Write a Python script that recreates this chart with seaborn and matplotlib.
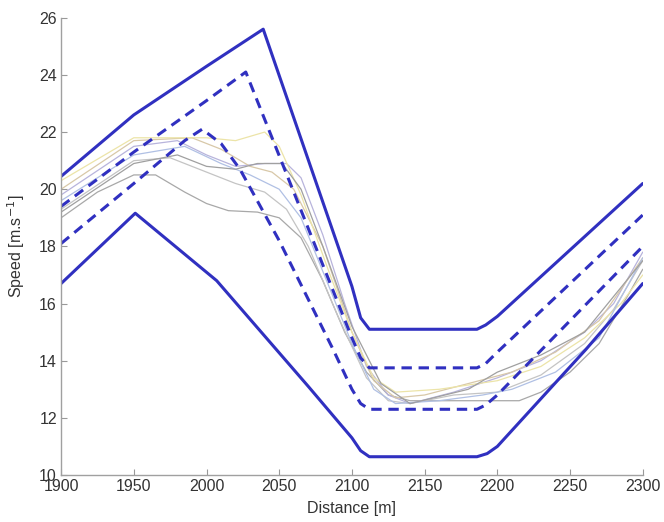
import pandas as pd
import matplotlib
matplotlib.use("Agg")
import matplotlib.pyplot as plt
import seaborn as sns

# Envelope curves (solid = outer limits, dashed = inner limits)
upper_x = [1900, 1950, 2000, 2039, 2100, 2106, 2112, 2186, 2192, 2200, 2300]
upper_y = [20.45, 22.6, 24.3, 25.6, 16.6, 15.5, 15.1, 15.1, 15.25, 15.55, 20.2]

lower_x = [1900, 1951, 2007, 2070, 2100, 2106, 2112, 2186, 2193, 2200, 2261, 2300]
lower_y = [16.7, 19.16, 16.8, 13.1, 11.3, 10.85, 10.64, 10.64, 10.75, 11.0, 14.4, 16.7]

dash_up_x = [1900, 1950, 2000, 2027, 2060, 2100, 2106, 2112, 2186, 2192, 2200, 2250, 2300]
dash_up_y = [19.4, 21.3, 23.1, 24.1, 19.9, 14.8, 14.1, 13.75, 13.75, 13.9, 14.3, 16.7, 19.1]

dash_lo_x = [1900, 1950, 1985, 1997, 2010, 2023, 2050, 2087, 2100, 2106, 2112, 2186, 2192, 2200, 2250, 2300]
dash_lo_y = [18.1, 20.2, 21.7, 22.1, 21.6, 20.7, 18.2, 14.4, 13.0, 12.5, 12.3, 12.3, 12.45, 12.8, 15.4, 18.0]

# Measured speed profiles (thin lines)
runs = {
    "r1": ([1900, 1925, 1950, 1965, 1985, 2000, 2015, 2035, 2050, 2065, 2080, 2095, 2110, 2125, 2140, 2170, 2200, 2215, 2230, 2250, 2270, 2290, 2300],
           [19.0, 19.9, 20.5, 20.5, 19.9, 19.5, 19.25, 19.2, 19.0, 18.3, 16.8, 15.0, 13.6, 12.8, 12.6, 12.6, 12.6, 12.6, 12.9, 13.6, 14.6, 16.3, 17.2]),
    "r2": ([1900, 1950, 1975, 2000, 2020, 2040, 2055, 2070, 2090, 2110, 2125, 2140, 2170, 2200, 2230, 2260, 2280, 2300],
           [19.3, 21.0, 21.1, 20.6, 20.2, 19.9, 19.3, 18.0, 15.6, 13.4, 12.6, 12.5, 12.8, 12.9, 13.5, 14.6, 15.8, 17.5]),
    "r3": ([1900, 1950, 1980, 2000, 2020, 2040, 2055, 2065, 2080, 2095, 2110, 2125, 2140, 2170, 2200, 2230, 2260, 2280, 2300],
           [19.8, 21.5, 21.7, 21.2, 20.8, 20.9, 20.9, 20.4, 18.4, 16.0, 13.8, 12.8, 12.5, 12.9, 13.4, 14.0, 15.0, 16.0, 17.8]),
    "r4": ([1900, 1950, 1990, 2010, 2030, 2045, 2060, 2080, 2100, 2115, 2130, 2150, 2180, 2210, 2240, 2270, 2300],
           [20.0, 21.7, 21.8, 21.4, 20.8, 20.6, 20.0, 18.0, 15.0, 13.3, 12.7, 12.8, 13.2, 13.6, 14.3, 15.4, 17.6]),
    "r5": ([1900, 1950, 2000, 2020, 2040, 2050, 2065, 2085, 2100, 2115, 2130, 2160, 2200, 2230, 2260, 2285, 2300],
           [20.3, 21.8, 21.8, 21.7, 22.0, 21.5, 19.8, 17.0, 15.0, 13.4, 12.9, 13.0, 13.3, 13.8, 14.8, 16.0, 17.0]),
    "r6": ([1900, 1950, 1985, 2010, 2030, 2050, 2065, 2085, 2100, 2115, 2130, 2160, 2190, 2210, 2240, 2270, 2300],
           [19.6, 21.2, 21.5, 20.9, 20.5, 20.0, 19.0, 16.5, 14.6, 13.0, 12.5, 12.6, 12.8, 13.0, 13.6, 14.8, 17.6]),
    "r7": ([1900, 1950, 1980, 2000, 2020, 2035, 2052, 2065, 2080, 2100, 2120, 2140, 2180, 2200, 2230, 2260, 2300],
           [19.2, 20.9, 21.2, 20.8, 20.7, 20.9, 20.9, 20.0, 18.0, 15.2, 13.2, 12.5, 13.0, 13.6, 14.2, 15.0, 17.5]),
}
run_colors = ["#a8a8a8", "#c4c4c4", "#b8b4dc", "#d8c8a8", "#ece4a8", "#b0c0e4", "#a0a0a0"]

blue = "#3030c0"

sns.set_theme(style="ticks")
plt.rcParams["font.family"] = ["Liberation Sans", "DejaVu Sans"]

fig = plt.figure(figsize=(6.64, 5.22), dpi=100)
ax = fig.add_axes([0.092, 0.090, 0.876, 0.876])

for (name, (xs, ys)), c in zip(runs.items(), run_colors):
    sns.lineplot(x=xs, y=ys, ax=ax, color=c, linewidth=0.9, sort=False, estimator=None)

sns.lineplot(x=dash_up_x, y=dash_up_y, ax=ax, color=blue, linewidth=2.2, sort=False, estimator=None,
             linestyle=(0, (3.4, 2.2)))
sns.lineplot(x=dash_lo_x, y=dash_lo_y, ax=ax, color=blue, linewidth=2.2, sort=False, estimator=None,
             linestyle=(0, (3.4, 2.2)))
sns.lineplot(x=upper_x, y=upper_y, ax=ax, color=blue, linewidth=2.2, sort=False, estimator=None)
sns.lineplot(x=lower_x, y=lower_y, ax=ax, color=blue, linewidth=2.2, sort=False, estimator=None)

ax.set_xlim(1900, 2300)
ax.set_ylim(10, 26)
ax.set_xticks(range(1900, 2301, 50))
ax.set_yticks(range(10, 27, 2))
ax.set_xlabel("Distance [m]", fontsize=11.5, color="#333333", labelpad=5)
ax.set_ylabel("Speed [m.s$^{-1}$]", fontsize=11.5, color="#333333", labelpad=9)
ax.tick_params(direction="in", length=4, width=0.8, colors="#999999", labelcolor="#333333",
               labelsize=11.5, pad=3)
sns.despine(ax=ax)
for s in ["left", "bottom"]:
    ax.spines[s].set_color("#a0a0a0")
    ax.spines[s].set_linewidth(1.0)

fig.savefig("out.png", dpi=100)
